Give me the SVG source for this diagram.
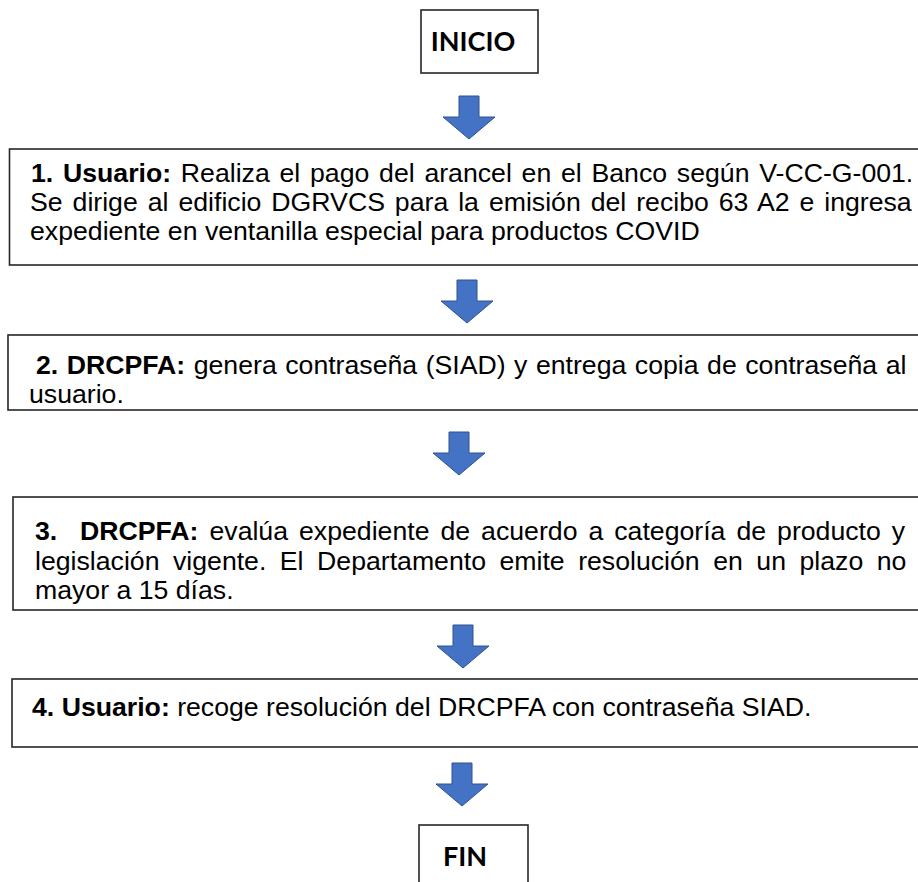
<svg xmlns="http://www.w3.org/2000/svg" width="918" height="882" viewBox="0 0 918 882">
<style>
.box{fill:#fff;stroke:#262626;stroke-width:1.6}
.t{font-family:"Liberation Sans",Arial,sans-serif;font-size:26.67px;fill:#000}
.b{font-weight:bold}
.term{font-family:Lato,"Open Sans",sans-serif;font-size:27px;font-weight:bold;fill:#000}
.arr{fill:#4472C4;stroke:#2F528F;stroke-width:1}
</style>
<defs>
<path id="down" d="M-10,0 H10 V21 H26 L0,43 L-26,21 H-10 Z"/>
</defs>
<rect width="918" height="882" fill="#fff"/>
<g id="inicio">
<rect class="box" x="421" y="10" width="117" height="63"/>
<text class="term" x="473" y="51" text-anchor="middle">INICIO</text>
</g>
<g id="paso1">
<rect class="box" x="9.5" y="149" width="930" height="116"/>
<text class="t" x="31" y="182" word-spacing="2.35"><tspan class="b">1. Usuario:</tspan> Realiza el pago del arancel en el Banco según V-CC-G-001.</text>
<text class="t" x="30" y="211" word-spacing="2.55">Se dirige al edificio DGRVCS para la emisión del recibo 63 A2 e ingresa</text>
<text class="t" x="30" y="240">expediente en ventanilla especial para productos COVID</text>
</g>
<g id="paso2">
<rect class="box" x="8" y="335" width="930" height="75"/>
<text class="t" x="36" y="374" word-spacing="1.1"><tspan class="b">2. DRCPFA:</tspan> genera contraseña (SIAD) y entrega copia de contraseña al</text>
<text class="t" x="29" y="403">usuario.</text>
</g>
<g id="paso3">
<rect class="box" x="13" y="497" width="930" height="113"/>
<text class="t" y="540" word-spacing="3.6"><tspan class="b" x="35">3.</tspan><tspan class="b" x="80">DRCPFA:</tspan> evalúa expediente de acuerdo a categoría de producto y</text>
<text class="t" x="35" y="570" word-spacing="6.1">legislación vigente. El Departamento emite resolución en un plazo no</text>
<text class="t" x="35" y="599">mayor a 15 días.</text>
</g>
<g id="paso4">
<rect class="box" x="12" y="679" width="930" height="68"/>
<text class="t" x="32" y="716"><tspan class="b">4. Usuario:</tspan> recoge resolución del DRCPFA con contraseña SIAD.</text>
</g>
<g id="fin">
<rect class="box" x="419" y="825" width="109" height="80"/>
<text class="term" x="443" y="866">FIN</text>
</g>
<g id="connectors">
<use href="#down" class="arr" x="469" y="96"/>
<use href="#down" class="arr" x="467" y="280"/>
<use href="#down" class="arr" x="459" y="432"/>
<use href="#down" class="arr" x="463" y="625"/>
<use href="#down" class="arr" x="462" y="763"/>
</g>
</svg>
